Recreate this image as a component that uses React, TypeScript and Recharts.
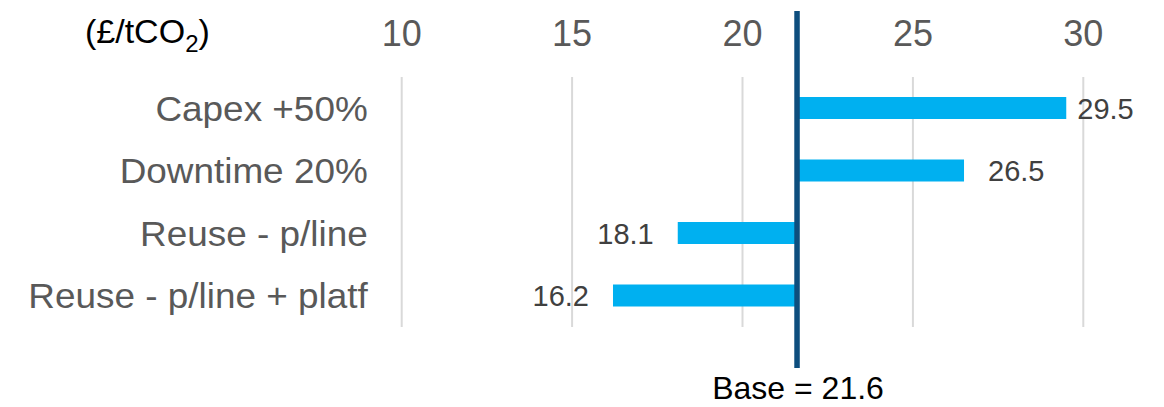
import { BarChart, Bar, XAxis, YAxis, CartesianGrid, ReferenceLine, LabelList } from 'recharts';

const BASE = 21.6;
const SCENARIOS = ['Capex +50%', 'Downtime 20%', 'Reuse - p/line', 'Reuse - p/line + platf'];
const VALUES = [29.5, 26.5, 18.1, 16.2];
const X_TICKS = [10, 15, 20, 25, 30];

const FONT = '"Liberation Sans", Arial, sans-serif';

const data = SCENARIOS.map((name, i) => ({
  name,
  value: VALUES[i],
  range: [BASE, VALUES[i]],
}));

// category labels are a touch wider than plain Arial in the original
function CategoryTick(props: any) {
  const { x, y, payload } = props;
  return (
    <text
      transform={`translate(${x},${y}) scale(1.025,1)`}
      x={0}
      y={12.5}
      textAnchor="end"
      fill="#595959"
      fontSize={36}
      fontFamily={FONT}
    >
      {payload.value}
    </text>
  );
}

function ValueLabel(props: any) {
  const { x, y, width, height, index } = props;
  const v = VALUES[index];
  const a = Number(x);
  const b = Number(x) + Number(width);
  const left = Math.min(a, b);
  const right = Math.max(a, b);
  const cy = Number(y) + Number(height) / 2;
  // top label sits closer to its bar in the original
  const gap = index === 0 ? 11 : 24;
  const up = v >= BASE;
  return (
    <text
      x={up ? right + gap : left - gap}
      y={cy + 10.5}
      textAnchor={up ? 'start' : 'end'}
      fill="#404040"
      fontSize={29}
      fontFamily={FONT}
    >
      {v.toFixed(1)}
    </text>
  );
}

function BaseMarker(props: any) {
  const { x1, x2, y1, y2 } = props;
  const x = (Number(x1) + Number(x2)) / 2;
  const top = Math.min(y1, y2) - 66;
  const bottom = Math.max(y1, y2) + 41;
  return (
    <g>
      <line x1={x} x2={x} y1={top} y2={bottom} stroke="#0D4E7E" strokeWidth={5.5} />
      <text x={x + 1} y={399} textAnchor="middle" fill="#000" fontSize={32} fontFamily={FONT}>
        Base = {BASE}
      </text>
    </g>
  );
}

export default function App() {
  return (
    <div style={{ position: 'absolute', left: 0, top: 0, width: 1164, height: 407, background: '#fff' }}>
      <BarChart
        width={1164}
        height={407}
        data={data}
        layout="vertical"
        margin={{ top: 37, right: 80.7, bottom: 80, left: 21.7 }}
      >
        <CartesianGrid horizontal={false} stroke="#D9D9D9" strokeWidth={2} />
        <XAxis
          type="number"
          orientation="top"
          domain={[10, 30]}
          ticks={X_TICKS}
          height={40}
          axisLine={false}
          tickLine={false}
          tickSize={0}
          tickMargin={31}
          tick={{ fill: '#595959', fontSize: 36, fontFamily: FONT }}
        />
        <YAxis
          type="category"
          dataKey="name"
          width={380}
          axisLine={false}
          tickLine={false}
          tickSize={0}
          tickMargin={34}
          tick={<CategoryTick />}
        />
        <Bar dataKey="range" barSize={22} fill="#00B0F0" isAnimationActive={false}>
          <LabelList dataKey="value" content={<ValueLabel />} />
        </Bar>
        <ReferenceLine x={BASE} shape={<BaseMarker />} />
      </BarChart>
      <svg width={260} height={60} style={{ position: 'absolute', left: 0, top: 0 }}>
        <text x={85} y={43} fill="#000" fontSize={34} fontFamily={FONT}>
          (£/tCO<tspan fontSize={24} dy={9}>2</tspan>
          <tspan dy={-9}>)</tspan>
        </text>
      </svg>
    </div>
  );
}
